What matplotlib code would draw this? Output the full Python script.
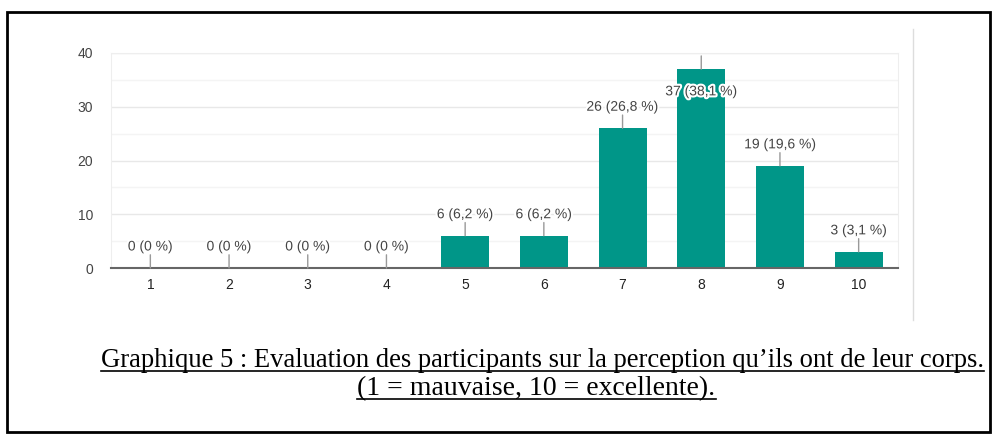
import matplotlib
matplotlib.use("Agg")
from matplotlib import pyplot as plt
from matplotlib import patheffects as pe
from matplotlib.patches import Rectangle
from matplotlib.lines import Line2D

categories = ['1', '2', '3', '4', '5', '6', '7', '8', '9', '10']
counts = [0, 0, 0, 0, 6, 6, 26, 37, 19, 3]
percents = ['0', '0', '0', '0', '6,2', '6,2', '26,8', '38,1', '19,6', '3,1']
yticks = [0, 10, 20, 30, 40]
caption = ["Graphique 5 : Evaluation des participants sur la perception qu\u2019ils ont de leur corps.",
           "(1 = mauvaise, 10 = excellente)."]

W, H = 992, 436
plt.rcParams['font.family'] = ['Liberation Sans', 'DejaVu Sans']

fig = plt.figure(figsize=(W / 100, H / 100), dpi=100)
fig.patch.set_facecolor('white')

ax = fig.add_axes([111 / W, 1 - 268 / H, 787 / W, 215 / H])
x = list(range(1, len(categories) + 1))
ax.bar(x, counts, width=0.61, color='#009688', zorder=3)

ax.set_xlim(0.5, len(categories) + 0.5)
ax.set_ylim(0, 40)
ax.set_xticks(x)
ax.set_xticklabels(categories)
ax.set_yticks(yticks)
ax.set_yticks([5, 15, 25, 35], minor=True)
ax.tick_params(axis='x', length=0, pad=7, labelsize=10, labelcolor='#222222')
ax.tick_params(axis='y', which='both', length=0, pad=13, labelsize=10, labelcolor='#444444')
ax.grid(axis='y', which='major', color='#e8e8e8', lw=1, zorder=0)
ax.grid(axis='y', which='minor', color='#f4f4f4', lw=1, zorder=0)
for s in ['left', 'top', 'right']:
    ax.spines[s].set_color('#eeeeee')
ax.spines['bottom'].set_color('#666666')
ax.spines['bottom'].set_linewidth(1.5)
ax.spines['bottom'].set_zorder(4)

halo = [pe.withStroke(linewidth=3, foreground='white')]
for xi, c, p in zip(x, counts, percents):
    ax.annotate('', xy=(xi, c), xytext=(0, 9.5), textcoords='offset points',
                arrowprops=dict(arrowstyle='-', color='#999999', lw=1, shrinkA=0, shrinkB=0),
                zorder=5)
    dy = -16 if c >= 35 else 15.5
    ax.annotate(f"{c} ({p} %)", xy=(xi, c), xytext=(0, dy), textcoords='offset points',
                ha='center', va='center', fontsize=10, color='#444444',
                path_effects=halo, zorder=6)

# separator line on the right and outer frame
fig.add_artist(Line2D([913 / W, 913 / W], [1 - 29 / H, 1 - 320 / H], color='#dddddd', lw=1))
fig.add_artist(Rectangle((7 / W, 1 - 432 / H), 983 / W, 420 / H, fill=False,
                         edgecolor='black', lw=2, transform=fig.transFigure))

# caption, sized to the reference width, with underline
renderer = fig.canvas.get_renderer()
specs = [(caption[0], 542.5, 367, 885), (caption[1], 536.5, 395, 359)]
for txt, cx, by, target in specs:
    t = fig.text(cx / W, 1 - by / H, txt, ha='center', va='baseline',
                 family='Liberation Serif', fontsize=18, color='black')
    w = t.get_window_extent(renderer).width
    t.set_fontsize(18 * target / w)
    ext = t.get_window_extent(renderer)
    fig.add_artist(Line2D([ext.x0 / W, ext.x1 / W], [1 - (by + 4) / H] * 2,
                          color='black', lw=1.2))

fig.savefig('out.png', dpi=100, facecolor='white')
